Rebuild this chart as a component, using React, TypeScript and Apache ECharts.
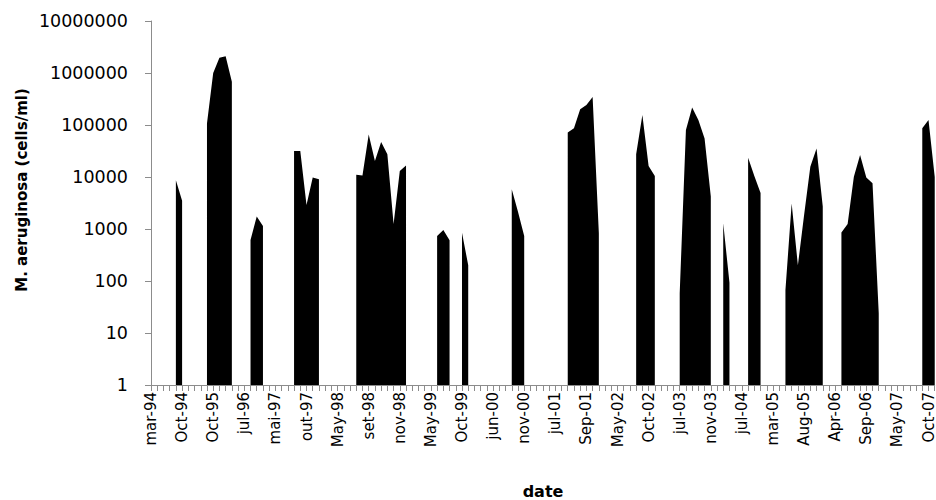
import React, { useEffect, useRef } from "react";
import * as echarts from "echarts";

// Tick labels shown every 5th sampling date
const tickLabels: string[] = [
  "mar-94", "Oct-94", "Oct-95", "jul-96", "mai-97", "out-97", "May-98", "set-98",
  "nov-98", "May-99", "Oct-99", "jun-00", "nov-00", "jul-01", "Sep-01", "May-02",
  "Oct-02", "jul-03", "nov-03", "jul-04", "mar-05", "Aug-05", "Apr-06", "Sep-06",
  "May-07", "Oct-07",
];

const LABEL_EVERY = 5;
const N_SAMPLES = 127;

// M. aeruginosa (cells/ml) per sampling date; null = not detected / no sample
const cells: (number | null)[] = [
  null, null, null, null, 8700, 3500, null, null, null, 107000,
  1000000, 1960000, 2100000, 680000, null, null, 615, 1740, 1140, null,
  null, null, null, 31600, 31600, 2900, 9800, 9100, null, null,
  null, null, null, 11000, 10700, 66000, 20300, 47000, 27300, 1250,
  13100, 16700, null, null, null, null, 730, 960, 610, null,
  850, 200, null, null, null, null, null, null, 5800, 2150,
  730, null, null, null, null, null, null, 72000, 87000, 200000,
  243000, 346000, 830, null, null, null, null, null, 27400, 156000,
  16300, 10500, null, null, null, 58, 80000, 218000, 125000, 55000,
  4200, null, 1290, 93, null, null, 23500, 10500, 4900, null,
  null, null, 67, 3100, 200, 1850, 15700, 35500, 2700, null,
  null, 860, 1250, 10100, 26500, 9800, 7600, 24, null, null,
  null, null, null, null, 87000, 125000, 10000,
];

const categories: string[] = Array.from({ length: N_SAMPLES }, (_, i) =>
  i % LABEL_EVERY === 0 ? tickLabels[i / LABEL_EVERY] ?? "" : ""
);

const AXIS_COLOR = "#8c8c8c";
const FONT = "DejaVu Sans";

export default function App() {
  const ref = useRef<HTMLDivElement>(null);
  useEffect(() => {
    if (!ref.current) return;
    const chart = echarts.init(ref.current, undefined, { renderer: "svg" });
    chart.setOption({
      animation: false,
      grid: { left: 151, right: 0, top: 21, bottom: 115, containLabel: false },
      xAxis: {
        type: "category",
        data: categories,
        boundaryGap: false,
        axisLine: { show: true, lineStyle: { color: AXIS_COLOR, width: 1 } },
        axisTick: { show: true, interval: 0, length: 6, lineStyle: { color: AXIS_COLOR } },
        axisLabel: {
          interval: LABEL_EVERY - 1,
          rotate: 90,
          margin: 7,
          color: "#000",
          fontFamily: FONT,
          fontSize: 15,
        },
        splitLine: { show: false },
      },
      yAxis: {
        type: "log",
        logBase: 10,
        min: 1,
        max: 10000000,
        axisLine: { show: true, lineStyle: { color: AXIS_COLOR, width: 1 } },
        axisTick: { show: true, length: 6, lineStyle: { color: AXIS_COLOR } },
        axisLabel: {
          margin: 23,
          color: "#000",
          fontFamily: FONT,
          fontSize: 17.5,
          formatter: (v: number) => String(Math.round(v)),
        },
        splitLine: { show: false },
      },
      graphic: [
        {
          type: "text",
          x: 22,
          y: 190,
          rotation: Math.PI / 2,
          style: {
            text: "M. aeruginosa (cells/ml)",
            align: "center",
            verticalAlign: "middle",
            font: `bold 15px "${FONT}"`,
            fill: "#000",
          },
        },
        {
          type: "text",
          x: 543,
          y: 491,
          style: {
            text: "date",
            align: "center",
            verticalAlign: "middle",
            font: `bold 16px "${FONT}"`,
            fill: "#000",
          },
        },
      ],
      series: [
        {
          type: "line",
          data: cells,
          showSymbol: false,
          connectNulls: false,
          lineStyle: { width: 0, color: "#000" },
          itemStyle: { color: "#000" },
          areaStyle: { color: "#000", opacity: 1, origin: "start" },
        },
      ],
    });
    return () => chart.dispose();
  }, []);
  return (
    <div
      ref={ref}
      style={{ position: "absolute", left: 0, top: 0, width: 936, height: 500 }}
    />
  );
}
